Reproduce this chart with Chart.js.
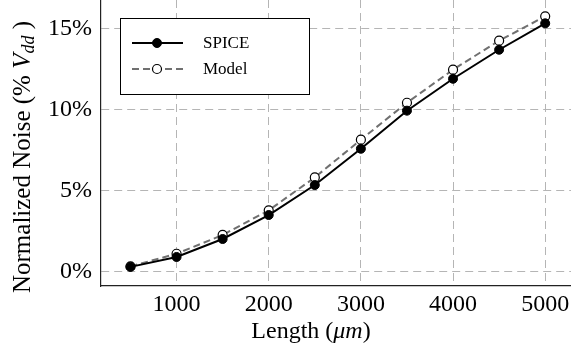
<!DOCTYPE html>
<html>
<head>
<meta charset="utf-8">
<script src="https://cdn.jsdelivr.net/npm/chart.js@4"></script>
<style>
  html, body { margin: 0; padding: 0; background: #fff; }
  #wrap { width: 571px; height: 356px; }
</style>
</head>
<body>
<div id="wrap"><canvas id="myChart" width="571" height="356"></canvas></div>
<script>
// datos
const longitudes = [500, 1000, 1500, 2000, 2500, 3000, 3500, 4000, 4500, 5000];
const ruidoSpice = [0.30, 0.91, 2.02, 3.50, 5.35, 7.59, 9.94, 11.91, 13.70, 15.33];
const ruidoModelo = [0.33, 1.11, 2.27, 3.79, 5.82, 8.15, 10.43, 12.47, 14.26, 15.76];
const ticksX = [1000, 2000, 3000, 4000, 5000];
const ticksY = [0, 5, 10, 15];
const nombresSeries = ['SPICE', 'Model'];

const fuente = '"Liberation Serif", "DejaVu Serif", serif';

// leyenda dentro del area del grafico, con caja
const leyendaCaja = {
    id: 'leyendaCaja',
    afterDraw(chart) {
        const ctx = chart.ctx;
        const x0 = 120, y0 = 18, w = 189, h = 76;
        ctx.save();
        ctx.fillStyle = '#fff';
        ctx.fillRect(x0, y0, w, h);
        ctx.strokeStyle = '#000';
        ctx.lineWidth = 1;
        ctx.strokeRect(x0 + 0.5, y0 + 0.5, w, h);
        chart.data.datasets.forEach((ds, i) => {
            const y = y0 + 25 + i * 26;
            ctx.strokeStyle = ds.borderColor;
            ctx.lineWidth = ds.borderWidth;
            ctx.setLineDash(ds.borderDash || []);
            ctx.beginPath();
            ctx.moveTo(132, y);
            ctx.lineTo(183, y);
            ctx.stroke();
            ctx.setLineDash([]);
            ctx.beginPath();
            ctx.arc(157, y, ds.pointRadius, 0, Math.PI * 2);
            ctx.fillStyle = ds.pointBackgroundColor;
            ctx.fill();
            ctx.lineWidth = ds.pointBorderWidth;
            ctx.strokeStyle = ds.pointBorderColor;
            ctx.stroke();
            ctx.fillStyle = '#000';
            ctx.font = '17px ' + fuente;
            ctx.textBaseline = 'middle';
            ctx.fillText(ds.label, 203, y + 1);
        });
        ctx.restore();
    }
};

// titulos de ejes con cursiva y subindice
const titulosEjes = {
    id: 'titulosEjes',
    afterDraw(chart) {
        const ctx = chart.ctx;
        ctx.save();
        ctx.fillStyle = '#000';
        ctx.textBaseline = 'alphabetic';

        // eje x: "Length (μm)"
        const partesX = [['Length (', '24px ' + fuente], ['μm', 'italic 24px ' + fuente], [')', '24px ' + fuente]];
        let ancho = 0;
        partesX.forEach(p => { ctx.font = p[1]; ancho += ctx.measureText(p[0]).width; });
        let x = 311 - ancho / 2;
        partesX.forEach(p => { ctx.font = p[1]; ctx.fillText(p[0], x, 338); x += ctx.measureText(p[0]).width; });

        // eje y: "Normalized Noise (% V_dd )"
        ctx.translate(30, 157);
        ctx.rotate(-Math.PI / 2);
        const partesY = [
            ['Normalized Noise (% ', '25px ' + fuente, 0],
            ['V', 'italic 25px ' + fuente, 0],
            ['dd', 'italic 18px ' + fuente, 4],
            [' )', '25px ' + fuente, 0]
        ];
        ancho = 0;
        partesY.forEach(p => { ctx.font = p[1]; ancho += ctx.measureText(p[0]).width; });
        x = -ancho / 2;
        partesY.forEach(p => { ctx.font = p[1]; ctx.fillText(p[0], x, 0 + p[2]); x += ctx.measureText(p[0]).width; });
        ctx.restore();
    }
};

const ctx = document.getElementById('myChart').getContext('2d');
const myChart = new Chart(ctx, {
    type: 'line',
    data: {
        datasets: [{
            label: nombresSeries[0],
            data: longitudes.map((l, i) => ({ x: l, y: ruidoSpice[i] })),
            borderColor: '#000',
            borderWidth: 2,
            pointRadius: 4.5,
            pointBackgroundColor: '#000',
            pointBorderColor: '#000',
            pointBorderWidth: 1,
            tension: 0,
            order: 0
        }, {
            label: nombresSeries[1],
            data: longitudes.map((l, i) => ({ x: l, y: ruidoModelo[i] })),
            borderColor: '#707070',
            borderWidth: 2,
            borderDash: [7, 4],
            pointRadius: 4.5,
            pointBackgroundColor: '#fff',
            pointBorderColor: '#000',
            pointBorderWidth: 1.2,
            tension: 0,
            order: 1
        }]
    },
    options: {
        responsive: false,
        animation: false,
        layout: { padding: 0, autoPadding: false },
        plugins: {
            legend: { display: false },
            tooltip: { enabled: false }
        },
        scales: {
            x: {
                type: 'linear',
                min: 180,
                max: 5280,
                afterBuildTicks: s => { s.ticks = ticksX.map(v => ({ value: v })); },
                afterFit: s => { s.height = 70; s.paddingLeft = 0; s.paddingRight = 0; },
                ticks: {
                    font: { family: fuente, size: 24 },
                    color: '#000',
                    padding: 4,
                    maxRotation: 0,
                    callback: v => String(v)
                },
                grid: { color: '#b5b5b5', lineWidth: 1, drawTicks: false },
                border: { display: true, color: '#222', width: 1.2, dash: [8, 5] }
            },
            y: {
                min: -0.88,
                max: 16.77,
                afterBuildTicks: s => { s.ticks = ticksY.map(v => ({ value: v })); },
                afterFit: s => { s.width = 101; s.paddingTop = 0; s.paddingBottom = 0; },
                ticks: {
                    font: { family: fuente, size: 24 },
                    color: '#000',
                    padding: 9,
                    callback: v => v + '%'
                },
                grid: { color: '#b5b5b5', lineWidth: 1, drawTicks: false },
                border: { display: true, color: '#222', width: 1.2, dash: [8, 5] }
            }
        }
    },
    plugins: [leyendaCaja, titulosEjes]
});
</script>
</body>
</html>
